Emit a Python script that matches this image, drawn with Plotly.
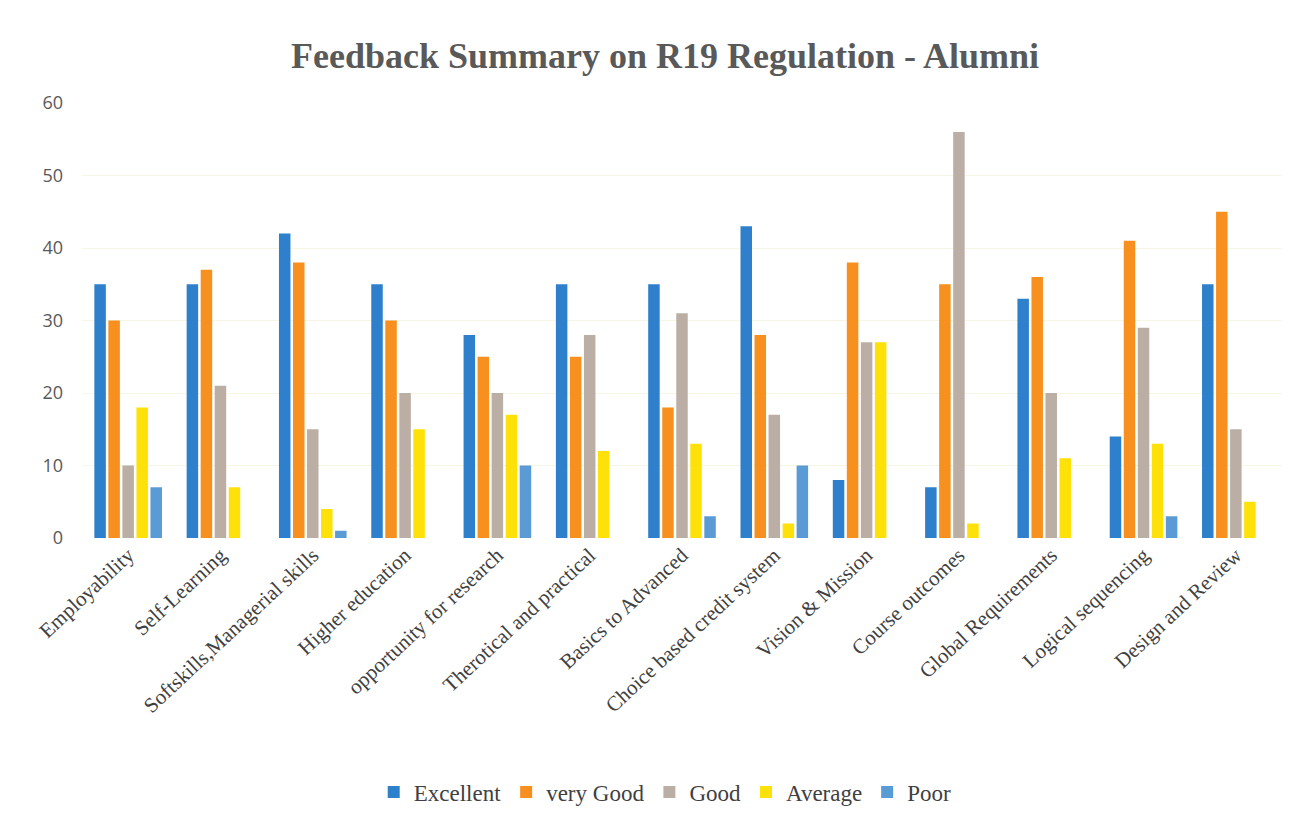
import plotly.graph_objects as go

categories = ["Employability", "Self-Learning", "Softskills,Managerial skills", "Higher education",
              "opportunity for research", "Therotical and practical", "Basics to Advanced",
              "Choice based credit system", "Vision & Mission", "Course outcomes",
              "Global Requirements", "Logical sequencing", "Design and Review"]
excellent = [35, 35, 42, 35, 28, 35, 35, 43, 8, 7, 33, 14, 35]
very_good = [30, 37, 38, 30, 25, 25, 18, 28, 38, 35, 36, 41, 45]
good = [10, 21, 15, 20, 20, 28, 31, 17, 27, 56, 20, 29, 15]
average = [18, 7, 4, 15, 17, 12, 13, 2, 27, 2, 11, 13, 5]
poor = [7, 0, 1, 0, 10, 0, 3, 10, 0, 0, 0, 3, 0]

series = [("Excellent", excellent, "#2F80CC"),
          ("very Good", very_good, "#F7901E"),
          ("Good", good, "#BBAFA5"),
          ("Average", average, "#FFE10A"),
          ("Poor", poor, "#5B9BD5")]

fig = go.Figure()
for name, vals, col in series:
    fig.add_trace(go.Bar(x=categories, y=vals, name=name, marker_color=col,
                         marker_line_width=0))

fig.update_layout(
    width=1314, height=825,
    paper_bgcolor="white", plot_bgcolor="white",
    barmode="group", bargap=0.24, bargroupgap=0.18,
    margin=dict(l=74, r=40, t=95, b=295, autoexpand=False),
    title=dict(text="<b>Feedback Summary on R19 Regulation - Alumni</b>",
               x=0.5, xanchor="center", y=0.943, yanchor="middle",
               font=dict(family="Liberation Serif", size=36, color="#595959")),
    legend=dict(orientation="h", x=0.486, xanchor="center", y=-0.584, yanchor="middle",
                font=dict(family="Liberation Serif", size=23, color="#404040"),
                itemwidth=30, traceorder="normal"),
    font=dict(family="Liberation Sans"),
)
fig.update_yaxes(range=[0, 60], dtick=10, showgrid=True, gridcolor="#F7F5E4", gridwidth=1,
                 zeroline=False, showline=False, ticklabelstandoff=18,
                 tickfont=dict(family="Open Sans", size=18, color="#595959"))
fig.update_xaxes(tickangle=-43, showline=False, showgrid=False, automargin=False,
                 tickfont=dict(family="Liberation Serif", size=21, color="#404040"))

fig.write_html("out.html")
